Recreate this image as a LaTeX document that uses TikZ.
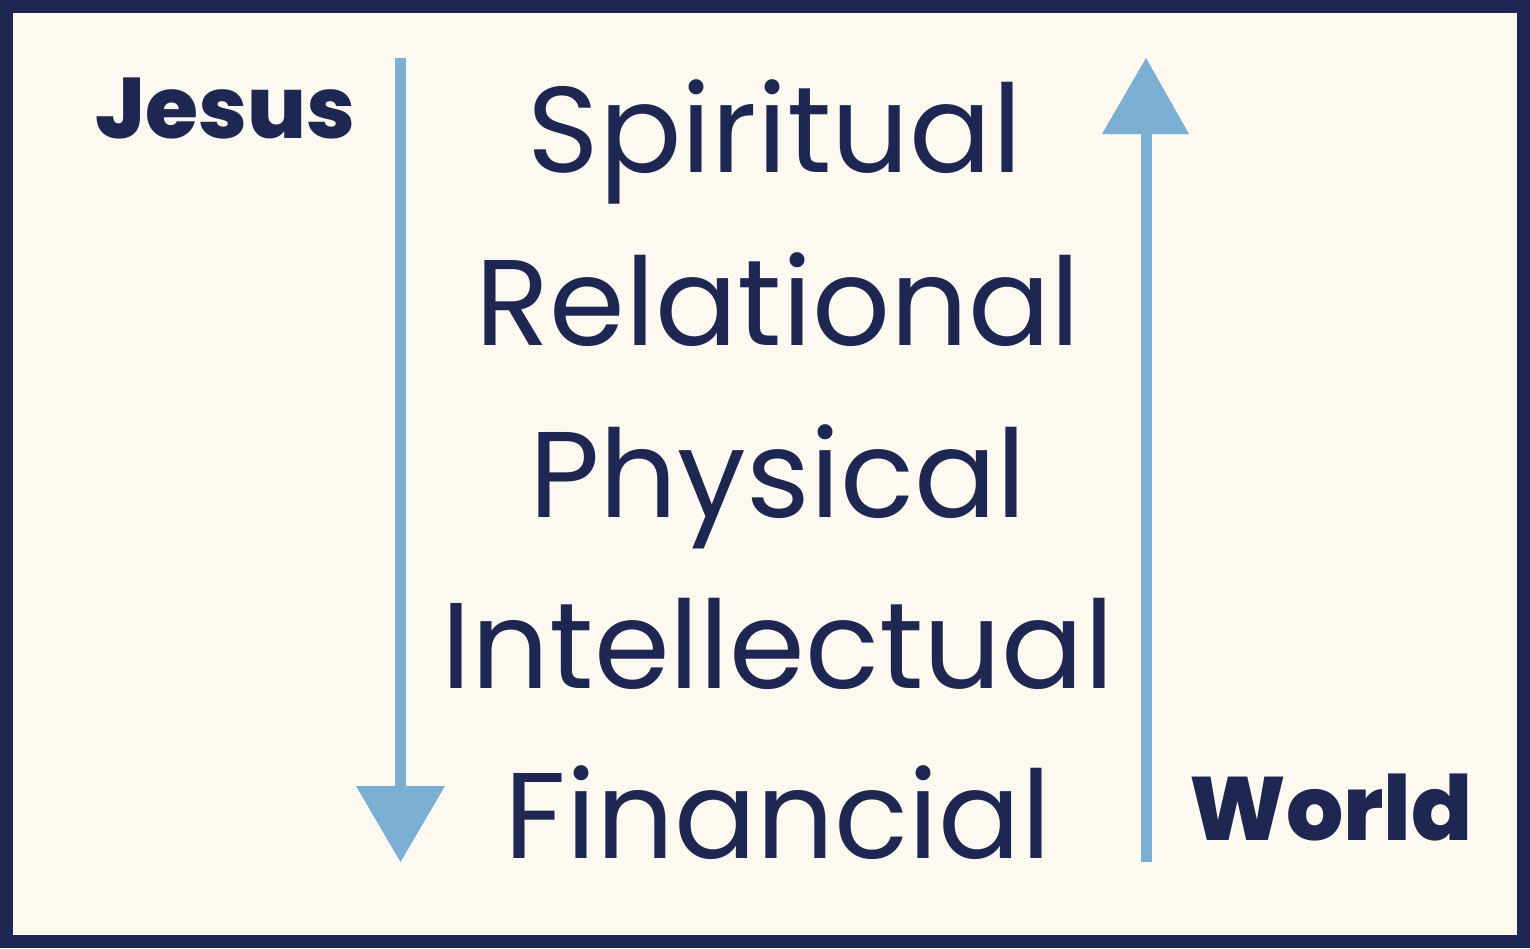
\documentclass[tikz,border=0pt]{standalone}
\usepackage{fontspec}
\setmainfont{Poppins}
\newfontfamily\heavyfont{Poppins ExtraBold}
\definecolor{navy}{HTML}{1E2752}
\definecolor{cream}{HTML}{FDF8F0}
\definecolor{sky}{HTML}{7BAFD4}
\begin{document}
\begin{tikzpicture}[x=1pt,y=-1pt,
  word/.style={text=navy,font=\fontsize{122}{122}\selectfont,anchor=base,inner sep=0pt},
  bold/.style={text=navy,font=\fontsize{86}{86}\heavyfont,anchor=base,inner sep=0pt}]
\useasboundingbox (0,0) rectangle (1530,948);
\fill[navy] (0,0) rectangle (1530,948);
\fill[cream] (13,13) rectangle (1517,935);
% left arrow
\fill[sky] (395,58) rectangle (406,788);
\fill[sky] (356,786) -- (445,786) -- (400.5,862) -- cycle;
% right arrow
\fill[sky] (1140.5,132) rectangle (1151.5,862);
\fill[sky] (1102,134) -- (1189,134) -- (1146,58) -- cycle;
\node[word] (s) at (775,172) {Spiritual};
\node[word] (r) at (778,345) {Relational};
\node[word] (p) at (778,517) {Physical};
\node[word] (i) at (778,688) {Intellectual};
\node[word] (f) at (778,858) {Financial};
\node[bold] (j) at (225,138) {Jesus};
\node[bold,font=\fontsize{90}{90}\heavyfont] (w) at (1331,840) {World};
\end{tikzpicture}
\end{document}
